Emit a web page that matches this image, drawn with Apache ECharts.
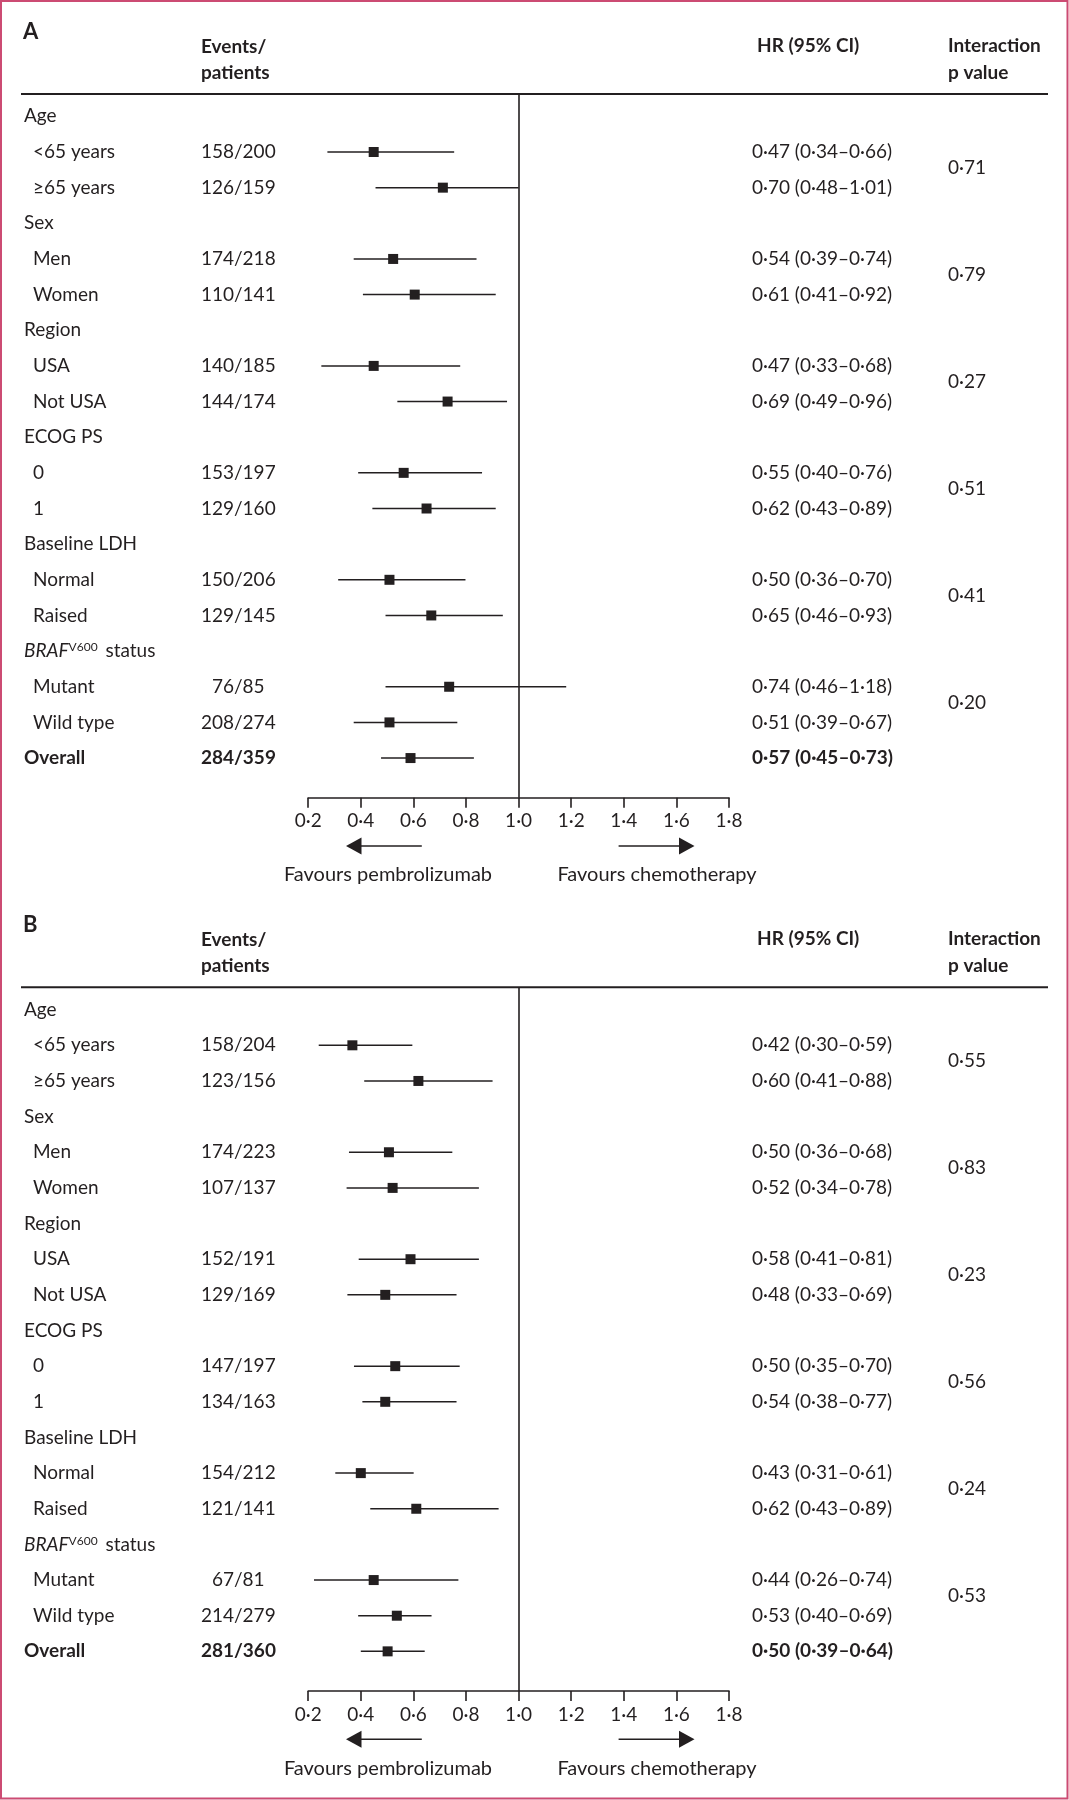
<!DOCTYPE html>
<html>
<head>
<meta charset="utf-8">
<script src="https://cdn.jsdelivr.net/npm/echarts@6/dist/echarts.min.js"></script>
<style>
  html, body { margin: 0; background: #fff; }
  #main { width: 1069px; height: 1800px; }
</style>
</head>
<body>
<div id="main"></div>
<script>
// rows of the table (same for both panels)
var rowLabels = ['Age', '<65 years', '≥65 years', 'Sex', 'Men', 'Women', 'Region', 'USA', 'Not USA',
  'ECOG PS', '0', '1', 'Baseline LDH', 'Normal', 'Raised', '{it|BRAF}{sup|V600} status', 'Mutant', 'Wild type', 'Overall'];
var groupRows = [0, 3, 6, 9, 12, 15];
var subRows = [1, 2, 4, 5, 7, 8, 10, 11, 13, 14, 16, 17, 18];

// panel A
var eventsA = ['158/200', '126/159', '174/218', '110/141', '140/185', '144/174', '153/197', '129/160',
  '150/206', '129/145', '76/85', '208/274', '284/359'];
var hrTextA = ['0·47 (0·34–0·66)', '0·70 (0·48–1·01)', '0·54 (0·39–0·74)', '0·61 (0·41–0·92)',
  '0·47 (0·33–0·68)', '0·69 (0·49–0·96)', '0·55 (0·40–0·76)', '0·62 (0·43–0·89)', '0·50 (0·36–0·70)',
  '0·65 (0·46–0·93)', '0·74 (0·46–1·18)', '0·51 (0·39–0·67)', '0·57 (0·45–0·73)'];
var pA = ['0·71', '0·79', '0·27', '0·51', '0·41', '0·20'];
// positions of the marks as drawn in the figure
var estA = [0.449, 0.712, 0.523, 0.605, 0.449, 0.730, 0.563, 0.650, 0.509, 0.668, 0.736, 0.509, 0.589];
var loA = [0.273, 0.456, 0.373, 0.408, 0.250, 0.539, 0.390, 0.444, 0.314, 0.494, 0.494, 0.373, 0.477];
var hiA = [0.755, 1.000, 0.840, 0.913, 0.778, 0.956, 0.861, 0.913, 0.798, 0.940, 1.181, 0.767, 0.830];

// panel B
var eventsB = ['158/204', '123/156', '174/223', '107/137', '152/191', '129/169', '147/197', '134/163',
  '154/212', '121/141', '67/81', '214/279', '281/360'];
var hrTextB = ['0·42 (0·30–0·59)', '0·60 (0·41–0·88)', '0·50 (0·36–0·68)', '0·52 (0·34–0·78)',
  '0·58 (0·41–0·81)', '0·48 (0·33–0·69)', '0·50 (0·35–0·70)', '0·54 (0·38–0·77)', '0·43 (0·31–0·61)',
  '0·62 (0·43–0·89)', '0·44 (0·26–0·74)', '0·53 (0·40–0·69)', '0·50 (0·39–0·64)'];
var pB = ['0·55', '0·83', '0·23', '0·56', '0·24', '0·53'];
var estB = [0.368, 0.619, 0.507, 0.521, 0.589, 0.493, 0.531, 0.493, 0.400, 0.611, 0.449, 0.537, 0.502];
var loB = [0.240, 0.413, 0.355, 0.346, 0.392, 0.349, 0.374, 0.406, 0.303, 0.436, 0.222, 0.390, 0.400];
var hiB = [0.596, 0.901, 0.748, 0.849, 0.849, 0.764, 0.776, 0.764, 0.601, 0.924, 0.771, 0.669, 0.643];

var panels = [
  { letter: 'A', events: eventsA, hr: hrTextA, p: pA, est: estA, lo: loA, hi: hiA },
  { letter: 'B', events: eventsB, hr: hrTextB, p: pB, est: estB, lo: loB, hi: hiB }
];

var ink = '#231f20';
var FONT = 'Lato, "Open Sans", sans-serif';
var FS = 19;
var offsets = [0, 893.3];
var SLASH_X = 234;

var chart = echarts.init(document.getElementById('main'));

function txt(x, y, text, opt) {
  opt = opt || {};
  return {
    type: 'text', x: x, y: y, silent: true,
    style: {
      text: text, fill: ink, fontFamily: FONT, fontSize: opt.size || FS,
      fontWeight: opt.bold ? 'bold' : 'normal',
      align: opt.align || 'left', verticalAlign: 'middle',
      rich: {
        it: { fontStyle: 'italic', fontFamily: FONT, fontSize: FS, fill: ink },
        sup: { fontFamily: FONT, fontSize: 12, fill: ink, verticalAlign: 'top', padding: [0, 3, 0, 0] }
      }
    }
  };
}

var grids = [], xAxes = [], yAxes = [], series = [], graphics = [];

panels.forEach(function (pn, k) {
  var off = offsets[k];
  grids.push({ left: 308.2, width: 420.8, top: 94 + off, height: 703.7 });
  xAxes.push({
    type: 'value', gridIndex: k, min: 0.2, max: 1.8, interval: 0.2, position: 'bottom',
    axisLine: { show: true, onZero: false, lineStyle: { color: ink, width: 1.6 } },
    axisTick: { show: true, length: 10, lineStyle: { color: ink, width: 1.6 } },
    axisLabel: {
      margin: 14, color: ink, fontFamily: FONT, fontSize: FS,
      formatter: function (v) { return v.toFixed(1).replace('.', '·'); }
    },
    splitLine: { show: false }
  });
  yAxes.push({ type: 'value', gridIndex: k, inverse: true, min: -0.627, max: 19.112, show: false });

  // CI lines and squares
  series.push({
    type: 'custom', xAxisIndex: k, yAxisIndex: k, z: 3,
    data: subRows.map(function (r, i) { return [r, pn.lo[i], pn.est[i], pn.hi[i]]; }),
    encode: { x: [1, 2, 3], y: 0 },
    renderItem: function (params, api) {
      var r = api.value(0);
      var a = api.coord([api.value(1), r]);
      var m = api.coord([api.value(2), r]);
      var b = api.coord([api.value(3), r]);
      return {
        type: 'group', children: [
          { type: 'line', shape: { x1: a[0], y1: a[1], x2: b[0], y2: b[1] }, style: { stroke: ink, lineWidth: 1.5 } },
          { type: 'rect', shape: { x: m[0] - 5, y: m[1] - 5, width: 10, height: 10 }, style: { fill: ink } }
        ]
      };
    },
    markLine: {
      silent: true, symbol: 'none', label: { show: false },
      lineStyle: { color: ink, width: 1.6, type: 'solid' },
      data: [{ xAxis: 1 }]
    }
  });

  // table text columns
  series.push({
    type: 'custom', xAxisIndex: k, yAxisIndex: k, z: 2,
    data: rowLabels.map(function (l, i) { return [1, i]; }),
    encode: { x: 0, y: 1 },
    renderItem: function (params, api) {
      var i = api.value(1);
      var y = api.coord([1, i])[1];
      var isGroup = groupRows.indexOf(i) >= 0;
      var bold = i === 18;
      var kids = [txt(bold || isGroup ? 24 : 33, y, rowLabels[i], { bold: bold })];
      var s = subRows.indexOf(i);
      if (s >= 0) {
        var parts = pn.events[s].split('/');
        kids.push(txt(SLASH_X, y, parts[0], { align: 'right', bold: bold }));
        kids.push(txt(SLASH_X, y, '/' + parts[1], { bold: bold }));
        kids.push(txt(752, y, pn.hr[s], { bold: bold }));
      }
      var g = groupRows.indexOf(i);
      if (g >= 0) {
        var yp = api.coord([1, i + 1.5])[1] - 2;
        kids.push(txt(948, yp, pn.p[g]));
      }
      return { type: 'group', children: kids };
    }
  });

  // headers, rule, arrows
  graphics.push(txt(23, 32 + off, pn.letter, { bold: true, size: 22 }));
  graphics.push(txt(201, 47 + off, 'Events/', { bold: true }));
  graphics.push(txt(201, 73 + off, 'patients', { bold: true }));
  graphics.push(txt(757, 46 + off, 'HR (95% CI)', { bold: true }));
  graphics.push(txt(948, 46 + off, 'Interaction', { bold: true }));
  graphics.push(txt(948, 73 + off, 'p value', { bold: true }));
  graphics.push({ type: 'line', silent: true, shape: { x1: 21, y1: 94 + off, x2: 1048, y2: 94 + off }, style: { stroke: ink, lineWidth: 2 } });
  var ay = 846 + off;
  graphics.push({ type: 'line', silent: true, shape: { x1: 358, y1: ay, x2: 421.8, y2: ay }, style: { stroke: ink, lineWidth: 1.6 } });
  graphics.push({ type: 'polygon', silent: true, shape: { points: [[346, ay], [361.5, ay - 8.5], [361.5, ay + 8.5]] }, style: { fill: ink } });
  graphics.push({ type: 'line', silent: true, shape: { x1: 618.6, y1: ay, x2: 682, y2: ay }, style: { stroke: ink, lineWidth: 1.6 } });
  graphics.push({ type: 'polygon', silent: true, shape: { points: [[694.5, ay], [679, ay - 8.5], [679, ay + 8.5]] }, style: { fill: ink } });
  graphics.push(txt(388, 875 + off, 'Favours pembrolizumab', { align: 'center', size: 20 }));
  graphics.push(txt(657, 875 + off, 'Favours chemotherapy', { align: 'center', size: 20 }));
});

graphics.push({ type: 'rect', silent: true, shape: { x: 1, y: 1, width: 1066.5, height: 1797.5 }, style: { fill: 'none', stroke: '#cc4b73', lineWidth: 2 } });

var option = {
  animation: false,
  backgroundColor: '#fff',
  grid: grids,
  xAxis: xAxes,
  yAxis: yAxes,
  series: series,
  graphic: graphics
};

chart.setOption(option);
</script>
</body>
</html>
